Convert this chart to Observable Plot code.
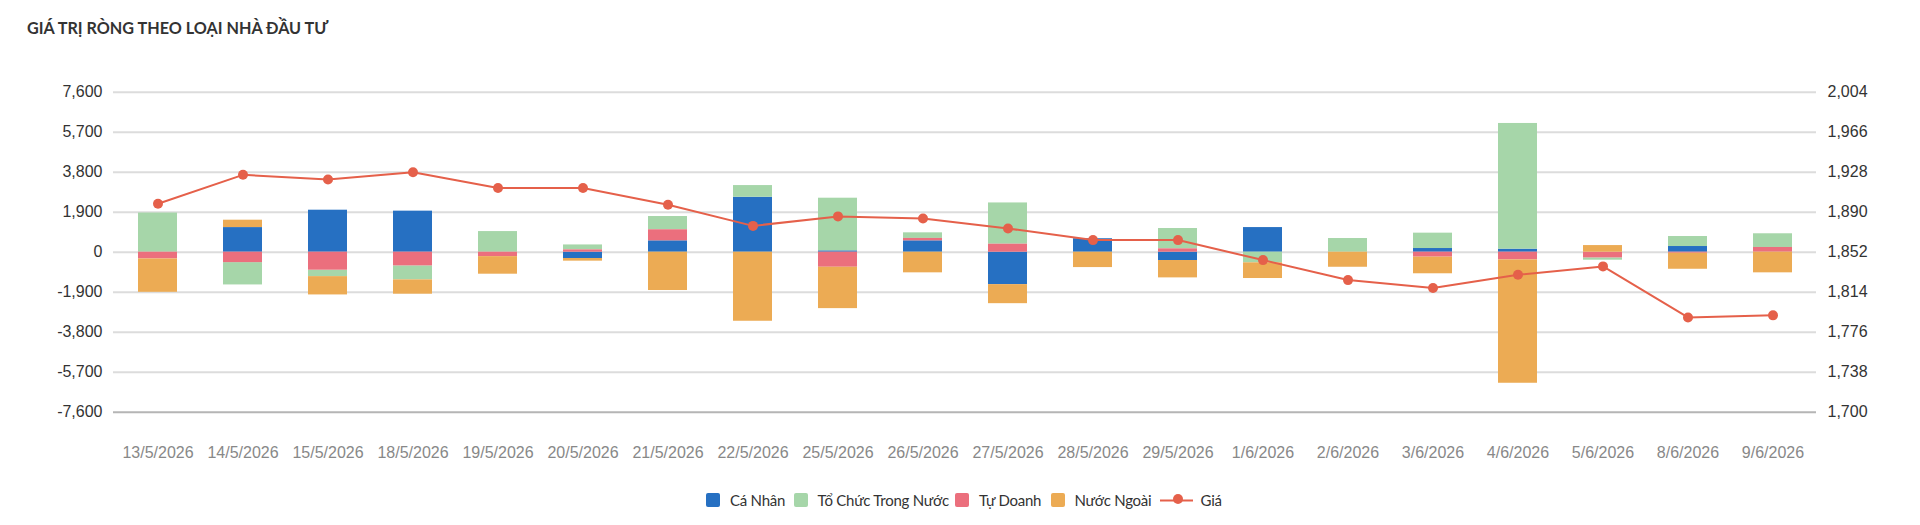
<!DOCTYPE html>
<html>
<head>
<meta charset="utf-8">
<script src="https://cdn.jsdelivr.net/npm/d3@7"></script>
<script src="https://cdn.jsdelivr.net/npm/@observablehq/plot@0.6"></script>
<style>
  html, body { margin: 0; padding: 0; background: #fff; width: 1920px; height: 525px; overflow: hidden; position: relative; }
  #title { position: absolute; left: 27px; top: 18px; font-family: Lato, "Noto Sans", sans-serif; font-weight: 700; font-size: 16.2px; line-height: 20px; color: #333; white-space: nowrap; }
  #chart { position: absolute; left: 0; top: 60px; }
  #legend { position: absolute; left: 706px; top: 491px; display: flex; align-items: center; font-family: Lato, "Noto Sans", sans-serif; font-size: 15px; color: #333; }
  .item { display: flex; align-items: center; white-space: nowrap; }
  .sw { width: 14px; height: 14px; border-radius: 2px; margin-right: 10px; flex: none; }
  .lbl { display: inline-block; letter-spacing: -0.25px; }
</style>
</head>
<body>
<div id="title">GIÁ TRỊ RÒNG THEO LOẠI NHÀ ĐẦU TƯ</div>
<div id="chart"></div>
<div id="legend"></div>
<script>
const dates = ["13/5/2026","14/5/2026","15/5/2026","18/5/2026","19/5/2026","20/5/2026","21/5/2026","22/5/2026","25/5/2026","26/5/2026","27/5/2026","28/5/2026","29/5/2026","1/6/2026","2/6/2026","3/6/2026","4/6/2026","5/6/2026","8/6/2026","9/6/2026"];

const caNhan    = [0, 1170, 1995, 1950, 0, -300, 540, 2610, 65, 540, -1540, 640, -395, 1170, 0, 175, 145, 0, 270, 0];
const toChuc    = [1860, -1060, -305, -665, 980, 235, 630, 555, 2500, 265, 1960, 0, 965, -505, 650, 730, 5970, -110, 475, 650];
const tuDoanh   = [-320, -495, -855, -650, -210, 110, 525, 0, -715, 115, 380, 0, 160, 0, 0, -235, -365, -270, -50, 225];
const nuocNgoai = [-1585, 350, -870, -680, -835, -125, -1820, -3280, -1965, -980, -905, -730, -825, -745, -715, -790, -5860, 315, -760, -980];
const gia       = [1898, 1925.5, 1921, 1928, 1913, 1913, 1897, 1877, 1886, 1884, 1874.5, 1863.5, 1863.5, 1844.5, 1825.5, 1818, 1830.5, 1838.5, 1790, 1792];

const seriesNames  = ["Cá Nhân", "Tổ Chức Trong Nước", "Tự Doanh", "Nước Ngoài"];
const seriesColors = ["#2670C2", "#A6D6A9", "#EB6F7D", "#ECAB54"];
const stackOrder   = ["Cá Nhân", "Tự Doanh", "Tổ Chức Trong Nước", "Nước Ngoài"];
const priceName = "Giá";
const priceColor = "#E5604A";

const leftTicks = [-7600, -5700, -3800, -1900, 0, 1900, 3800, 5700, 7600];
const priceMin = 1700, priceMax = 2004;

// map price onto primary axis (dual axis)
const priceMid = (priceMin + priceMax) / 2;
const priceK = 7600 / ((priceMax - priceMin) / 2);
const toY = p => (p - priceMid) * priceK;
const fromY = v => v / priceK + priceMid;

const valuesBySeries = [caNhan, toChuc, tuDoanh, nuocNgoai];
const rows = seriesNames.flatMap((name, s) => valuesBySeries[s].map((v, i) => ({date: dates[i], type: name, value: v})));
const priceRows = gia.map((p, i) => ({date: dates[i], price: p}));

const fmt = d3.formatLocale({decimal: ".", thousands: ",", grouping: [3], currency: ["", ""], minus: "-"}).format(",");

const chart = Plot.plot({
  width: 1920,
  height: 420,
  marginLeft: 113,
  marginRight: 104,
  marginTop: 31.7,
  marginBottom: 68.3,
  style: {fontFamily: "'Liberation Sans', Arial, sans-serif", background: "transparent"},
  x: {type: "band", domain: dates, paddingInner: 0.545, paddingOuter: 0.2725, label: null},
  y: {domain: [-7600, 7600], label: null},
  color: {domain: seriesNames, range: seriesColors},
  marks: [
    Plot.gridY(leftTicks.filter(t => t !== -7600), {stroke: "#dcdcdc", strokeOpacity: 1, strokeWidth: 2}),
    Plot.ruleY([-7600], {stroke: "#b5b5b5", strokeWidth: 2}),
    Plot.barY(rows, Plot.stackY({order: stackOrder}, {x: "date", y: "value", fill: "type"})),
    Plot.line(priceRows, {x: "date", y: d => toY(d.price), stroke: priceColor, strokeWidth: 2}),
    Plot.dot(priceRows, {x: "date", y: d => toY(d.price), r: 5, fill: priceColor, stroke: "none"}),
    Plot.axisY(leftTicks, {anchor: "left", tickSize: 0, tickPadding: 11, fontSize: 16, color: "#333", tickFormat: fmt, label: null}),
    Plot.axisY(leftTicks, {anchor: "right", tickSize: 0, tickPadding: 11, fontSize: 16, color: "#333", tickFormat: d => fmt(Math.round(fromY(d))), label: null}),
    Plot.axisX({tickSize: 0, tickPadding: 34, fontSize: 16, color: "#888", label: null})
  ]
});
document.getElementById("chart").appendChild(chart);

// legend (label widths as measured on the reference)
const labelWidths = [52, 126, 60, 72];
const legend = document.getElementById("legend");
seriesNames.forEach((name, i) => {
  const it = document.createElement("div");
  it.className = "item";
  it.style.marginRight = "11.5px";
  it.innerHTML = `<span class="sw" style="background:${seriesColors[i]}"></span><span class="lbl" style="width:${labelWidths[i]}px">${name}</span>`;
  legend.appendChild(it);
});
const pi = document.createElement("div");
pi.className = "item";
pi.style.marginLeft = "1.5px";
pi.innerHTML = `<svg width="33" height="14" style="margin-right:8px;flex:none"><line x1="0" y1="7.5" x2="33" y2="7.5" stroke="${priceColor}" stroke-width="2"/><circle cx="18" cy="6" r="5" fill="${priceColor}"/></svg><span class="lbl">${priceName}</span>`;
legend.appendChild(pi);
</script>
</body>
</html>
